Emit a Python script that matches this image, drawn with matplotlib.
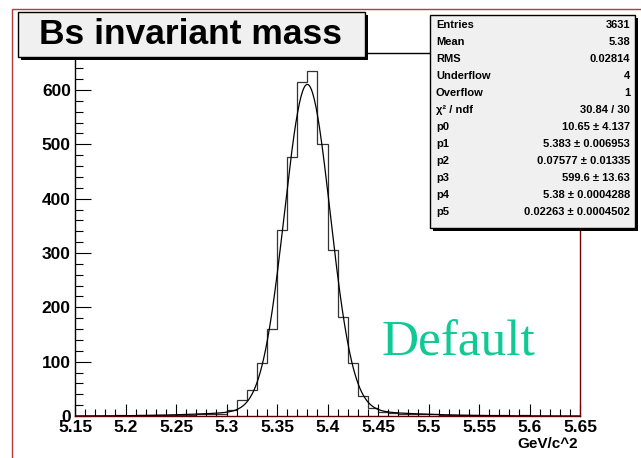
import numpy as np
import matplotlib
matplotlib.use('Agg')
from matplotlib import pyplot as plt
from matplotlib.patches import Rectangle
from matplotlib.ticker import MultipleLocator, FixedLocator

# histogram: 50 bins of 0.01 GeV/c^2 between 5.15 and 5.65
x_lo, x_hi, n_bins = 5.15, 5.65, 50
counts = [0, 0, 0, 0, 1, 0, 1, 1, 1, 2, 2, 2, 3, 3, 4,
          11, 30, 48, 97, 160, 342, 477, 615, 634, 500, 305, 182, 97, 37, 14,
          8, 5, 4, 4, 3, 3, 2, 2, 2, 1, 1, 1, 1, 0, 1, 0, 0, 0, 0, 0]

# fit: broad gaussian + narrow gaussian (values from the stats box)
fit_pars = [10.65, 5.383, 0.07577, 599.6, 5.38, 0.02263]

stat_names = ['Entries', 'Mean', 'RMS', 'Underflow', 'Overflow', 'χ² / ndf',
              'p0', 'p1', 'p2', 'p3', 'p4', 'p5']
stat_values = ['3631', '5.38', '0.02814', '4', '1', '30.84 / 30',
               '10.65 ± 4.137', '5.383 ± 0.006953', '0.07577 ± 0.01335',
               '599.6 ± 13.63', '5.38 ± 0.0004288', '0.02263 ± 0.0004502']

title = 'Bs invariant mass'
x_label = 'GeV/c^2'
note = 'Default'

W, H = 641, 458
plt.rcParams['font.family'] = ['Liberation Sans', 'DejaVu Sans']
fig = plt.figure(figsize=(W / 100, H / 100), dpi=100)
fig.patch.set_facecolor('white')


def fx(px):
    return px / W


def fy(py):
    return 1 - py / H


def box(x0, y0, x1, y1, **kw):
    # rectangle given in pixel coords (top-left origin)
    r = Rectangle((fx(x0), fy(y1)), fx(x1) - fx(x0), fy(y0) - fy(y1),
                  transform=fig.transFigure, **kw)
    fig.add_artist(r)
    return r


# outer pad border
box(12, 9, W + 20, H + 20, fill=False, edgecolor='#b83a3a', lw=1.0, zorder=0)

ax = fig.add_axes([fx(75), fy(416), fx(580) - fx(75), fy(53) - fy(416)])
edges = np.linspace(x_lo, x_hi, n_bins + 1)
ax.stairs(counts, edges, color='#333333', lw=0.9)


def fit_model(x, p):
    return (p[0] * np.exp(-0.5 * ((x - p[1]) / p[2]) ** 2)
            + p[3] * np.exp(-0.5 * ((x - p[4]) / p[5]) ** 2))


xs = np.linspace(x_lo, x_hi, 600)
ax.plot(xs, fit_model(xs, fit_pars), color='black', lw=0.9)

ax.set_xlim(x_lo, x_hi)
ax.set_ylim(0, 668)
xt = np.round(np.arange(5.15, 5.651, 0.05), 2)
ax.xaxis.set_major_locator(FixedLocator(xt))
ax.xaxis.set_minor_locator(MultipleLocator(0.01))
ax.yaxis.set_major_locator(MultipleLocator(100))
ax.yaxis.set_minor_locator(MultipleLocator(20))
ax.set_xticklabels([f'{v:g}' for v in xt])
ax.tick_params(axis='x', which='major', direction='in', length=8.5, width=0.8, pad=3,
               labelsize=12.5)
ax.tick_params(axis='x', which='minor', direction='in', length=5, width=0.8)
ax.tick_params(axis='y', which='major', direction='in', length=11.5, width=0.8, pad=3,
               labelsize=12.5)
ax.tick_params(axis='y', which='minor', direction='in', length=5.8, width=0.8)
for lab in ax.get_xticklabels() + ax.get_yticklabels():
    lab.set_fontweight('bold')

ax.spines['left'].set_color('black')
ax.spines['top'].set_color('black')
ax.spines['bottom'].set_color('#5a0000')
ax.spines['right'].set_color('#7a0000')
for s in ax.spines.values():
    s.set_linewidth(1.0)

fig.text(fx(578), fy(444), x_label, ha='right', va='center', fontsize=11,
         fontweight='bold')

fig.text(fx(382), fy(356), note, ha='left', va='baseline',
         fontsize=37, color='#10c994', family='Liberation Serif')

# title box with shadow
box(21, 15, 368, 60, facecolor='black', edgecolor='none', zorder=5)
box(18, 12, 365, 57, facecolor='#f0f0f0', edgecolor='black', lw=1.0, zorder=6)
fig.text(fx(190), fy(35), title, ha='center', va='center', fontsize=25.5,
         fontweight='bold', zorder=7)

# stats box with shadow
box(433, 18, 638, 231, facecolor='black', edgecolor='none', zorder=5)
box(430, 15, 635, 228, facecolor='#f0f0f0', edgecolor='black', lw=1.0, zorder=6)
for i, (name, val) in enumerate(zip(stat_names, stat_values)):
    yy = 25 + i * 16.97
    fig.text(fx(436), fy(yy), name, ha='left', va='center', fontsize=8,
             fontweight='bold', zorder=7)
    fig.text(fx(630), fy(yy), val, ha='right', va='center', fontsize=8,
             fontweight='bold', zorder=7)

fig.savefig('out.png', dpi=100)
